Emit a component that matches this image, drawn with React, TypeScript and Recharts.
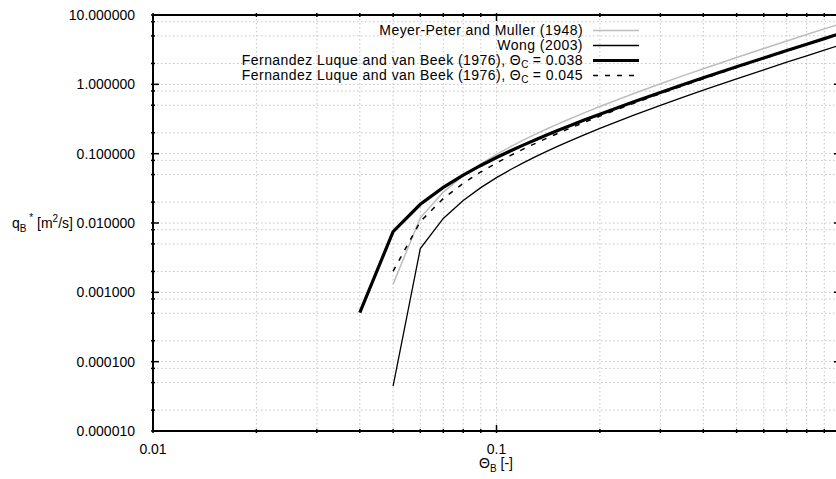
import React from 'react';
import { LineChart, Line, XAxis, YAxis, CartesianGrid, Legend } from 'recharts';

// Shields parameter values (x)
const thetaB = [0.04, 0.05, 0.06, 0.07, 0.08, 0.09, 0.1, 0.11, 0.12, 0.13, 0.14, 0.15, 0.16, 0.18, 0.2, 0.25, 0.3, 0.35, 0.4, 0.5, 0.6, 0.7, 0.8, 0.9, 1.0];

// Bed load transport rates qB* [m^2/s]
const meyerPeterMuller = [null, 0.0013145, 0.011858, 0.027905, 0.047958, 0.071333, 0.097612, 0.126503, 0.157788, 0.191297, 0.22689, 0.264451, 0.303884, 0.388034, 0.47877, 0.731701, 1.018054, 1.334302, 1.677846, 2.439146, 3.289865, 4.22143, 5.227362, 6.302512, 7.44268];
const wong2003 = [null, 0.000044386, 0.0042715, 0.011653, 0.021147, 0.032357, 0.045053, 0.059077, 0.074315, 0.090674, 0.108084, 0.126485, 0.145826, 0.187157, 0.23179, 0.356419, 0.497739, 0.65397, 0.823803, 1.200421, 1.621535, 2.082868, 2.581171, 3.113877, 3.678868];
const fernandez038 = [0.0005098, 0.0074928, 0.0186, 0.032629, 0.049062, 0.06759, 0.087995, 0.110122, 0.133843, 0.159058, 0.185683, 0.213648, 0.242893, 0.305007, 0.371662, 0.556388, 0.76441, 0.993362, 1.241472, 1.789939, 2.401484, 3.070168, 3.791469, 4.561796, 5.378206];
const fernandez045 = [null, 0.0020153, 0.010472, 0.022531, 0.037323, 0.054412, 0.073522, 0.09446, 0.117075, 0.141254, 0.166901, 0.193934, 0.222288, 0.282733, 0.347835, 0.529063, 0.733983, 0.960119, 1.205641, 1.749411, 2.356756, 3.021599, 3.739343, 4.50634, 5.319611];

// Axis ticks (the "1" label lies beyond the visible right edge)
const xTicks = [0.01, 0.02, 0.03, 0.04, 0.05, 0.06, 0.07, 0.08, 0.09, 0.1, 0.2, 0.3, 0.4, 0.5, 0.6, 0.7, 0.8, 0.9, 1];
const xTickLabels = ['0.01', '0.1', ''];
const yTicks = [0.00001, 0.00002, 0.00005, 0.00008, 0.0001, 0.0002, 0.0005, 0.0008, 0.001, 0.002, 0.005, 0.008, 0.01, 0.02, 0.05, 0.08, 0.1, 0.2, 0.5, 0.8, 1, 2, 5, 8, 10];
const yTickLabels = ['0.000010', '0.000100', '0.001000', '0.010000', '0.100000', '1.000000', '10.000000'];

const data = thetaB.map((t, i) => ({
  theta: t,
  mpm: meyerPeterMuller[i],
  wong: wong2003[i],
  fl038: fernandez038[i],
  fl045: fernandez045[i],
}));

const FONT = '"Liberation Sans", Arial, Helvetica, sans-serif';

const isDecade = (v: number) => Math.abs(Math.log10(v) - Math.round(Math.log10(v))) < 1e-9;
const decadeIndex = (v: number, min: number) => Math.round(Math.log10(v) - Math.log10(min));

const MAJOR = 8;
const MINOR = 4;

const BottomTick = (p: any) => {
  const { x, y, payload } = p;
  const v = payload.value;
  const major = isDecade(v);
  const label = major ? xTickLabels[decadeIndex(v, 0.01)] : '';
  return (
    <g>
      <line x1={x} x2={x} y1={y} y2={y - (major ? MAJOR : MINOR)} stroke="#000" strokeWidth={1.5} />
      {label && (
        <text x={x} y={y + 21} textAnchor="middle" fontSize={14} fontFamily={FONT} fill="#000">
          {label}
        </text>
      )}
    </g>
  );
};

const TopTick = (p: any) => {
  const { x, y, payload } = p;
  const major = isDecade(payload.value);
  return <line x1={x} x2={x} y1={y} y2={y + (major ? MAJOR : MINOR)} stroke="#000" strokeWidth={1.5} />;
};

const LeftTick = (p: any) => {
  const { x, y, payload } = p;
  const v = payload.value;
  const major = isDecade(v);
  return (
    <g>
      <line x1={x} x2={x + (major ? MAJOR : MINOR)} y1={y} y2={y} stroke="#000" strokeWidth={1.5} />
      {major && (
        <text x={x - 16} y={y + 5} textAnchor="end" fontSize={14} fontFamily={FONT} fill="#000">
          {yTickLabels[decadeIndex(v, 0.00001)]}
        </text>
      )}
    </g>
  );
};

const RightTick = (p: any) => {
  const { x, y, payload } = p;
  const major = isDecade(payload.value);
  return <line x1={x} x2={x - (major ? MAJOR : MINOR)} y1={y} y2={y} stroke="#000" strokeWidth={1.5} />;
};

const XTitle = () => (
  <text x={496} y={468} textAnchor="middle" fontSize={14} fontFamily={FONT} fill="#000">
    Θ<tspan fontSize={10} dy={4}>B</tspan>
    <tspan fontSize={14} dy={-4}> [-]</tspan>
  </text>
);

const YTitle = () => (
  <text x={12} y={228} fontSize={14} fontFamily={FONT} fill="#000">
    q<tspan fontSize={10} dy={4}>B</tspan>
    <tspan fontSize={10} dy={-11}> *</tspan>
    <tspan fontSize={14} dy={7}> [m</tspan>
    <tspan fontSize={10} dy={-6}>2</tspan>
    <tspan fontSize={14} dy={6}>/s]</tspan>
  </text>
);

const legendItems = [
  { key: 'mpm', text: 'Meyer-Peter and Muller (1948)', sub: '', tail: '', color: '#bdbdbd', width: 1.5, dash: undefined as string | undefined },
  { key: 'wong', text: 'Wong (2003)', sub: '', tail: '', color: '#000', width: 1.3, dash: undefined },
  { key: 'fl038', text: 'Fernandez Luque and van Beek (1976), Θ', sub: 'C', tail: ' = 0.038', color: '#000', width: 3.2, dash: undefined },
  { key: 'fl045', text: 'Fernandez Luque and van Beek (1976), Θ', sub: 'C', tail: ' = 0.045', color: '#000', width: 1.5, dash: '5 7' },
];

const LegendContent = () => (
  <div style={{ fontFamily: FONT }}>
    {legendItems.map((it) => (
      <div key={it.key} style={{ display: 'flex', alignItems: 'center', height: 15 }}>
        <div style={{ width: 383, textAlign: 'right', fontSize: 14, letterSpacing: '0.45px', lineHeight: '15px', whiteSpace: 'nowrap', color: '#000' }}>
          {it.text}
          {it.sub && <span style={{ fontSize: 10, position: 'relative', top: 3, letterSpacing: 0 }}>{it.sub}</span>}
          {it.tail}
        </div>
        <svg width={56} height={15} style={{ display: 'block' }}>
          <line x1={10} x2={56} y1={7.5} y2={7.5} stroke={it.color} strokeWidth={it.width} strokeDasharray={it.dash} />
        </svg>
      </div>
    ))}
  </div>
);

export default function App() {
  return (
    <div style={{ position: 'fixed', left: 0, top: 0, width: 836, height: 479, overflow: 'hidden', background: '#fff' }}>
      <LineChart width={860} height={479} data={data} margin={{ top: 14, right: 0, bottom: 0, left: 0 }}>
        <CartesianGrid stroke="#c4c4c4" strokeDasharray="1.5 2.5" strokeWidth={1} />
        <XAxis
          dataKey="theta"
          type="number"
          scale="log"
          domain={[0.01, 1]}
          allowDataOverflow
          ticks={xTicks}
          interval={0}
          tickSize={0}
          tickLine={false}
          axisLine={{ stroke: '#000', strokeWidth: 2 }}
          tick={<BottomTick />}
          height={48}
          label={<XTitle />}
        />
        <XAxis
          xAxisId="top"
          orientation="top"
          dataKey="theta"
          type="number"
          scale="log"
          domain={[0.01, 1]}
          allowDataOverflow
          ticks={xTicks}
          interval={0}
          tickSize={0}
          tickLine={false}
          axisLine={{ stroke: '#000', strokeWidth: 2 }}
          tick={<TopTick />}
          height={1}
        />
        <YAxis
          type="number"
          scale="log"
          domain={[0.00001, 10]}
          allowDataOverflow
          ticks={yTicks}
          interval={0}
          tickSize={0}
          tickLine={false}
          axisLine={{ stroke: '#000', strokeWidth: 2 }}
          tick={<LeftTick />}
          width={153}
          label={<YTitle />}
        />
        <YAxis
          yAxisId="right"
          orientation="right"
          type="number"
          scale="log"
          domain={[0.00001, 10]}
          allowDataOverflow
          ticks={yTicks}
          interval={0}
          tickSize={0}
          tickLine={false}
          axisLine={{ stroke: '#000', strokeWidth: 2 }}
          tick={<RightTick />}
          width={20}
        />
        <Legend
          layout="vertical"
          align="center"
          verticalAlign="middle"
          content={<LegendContent />}
          wrapperStyle={{ top: 23, left: 200, width: 460, height: 60 }}
        />
        <Line dataKey="mpm" type="linear" stroke="#bdbdbd" strokeWidth={1.5} dot={false} isAnimationActive={false} />
        <Line dataKey="wong" type="linear" stroke="#000" strokeWidth={1.3} dot={false} isAnimationActive={false} />
        <Line dataKey="fl038" type="linear" stroke="#000" strokeWidth={3.2} dot={false} isAnimationActive={false} />
        <Line dataKey="fl045" type="linear" stroke="#000" strokeWidth={1.5} strokeDasharray="5 7" dot={false} isAnimationActive={false} />
      </LineChart>
    </div>
  );
}
